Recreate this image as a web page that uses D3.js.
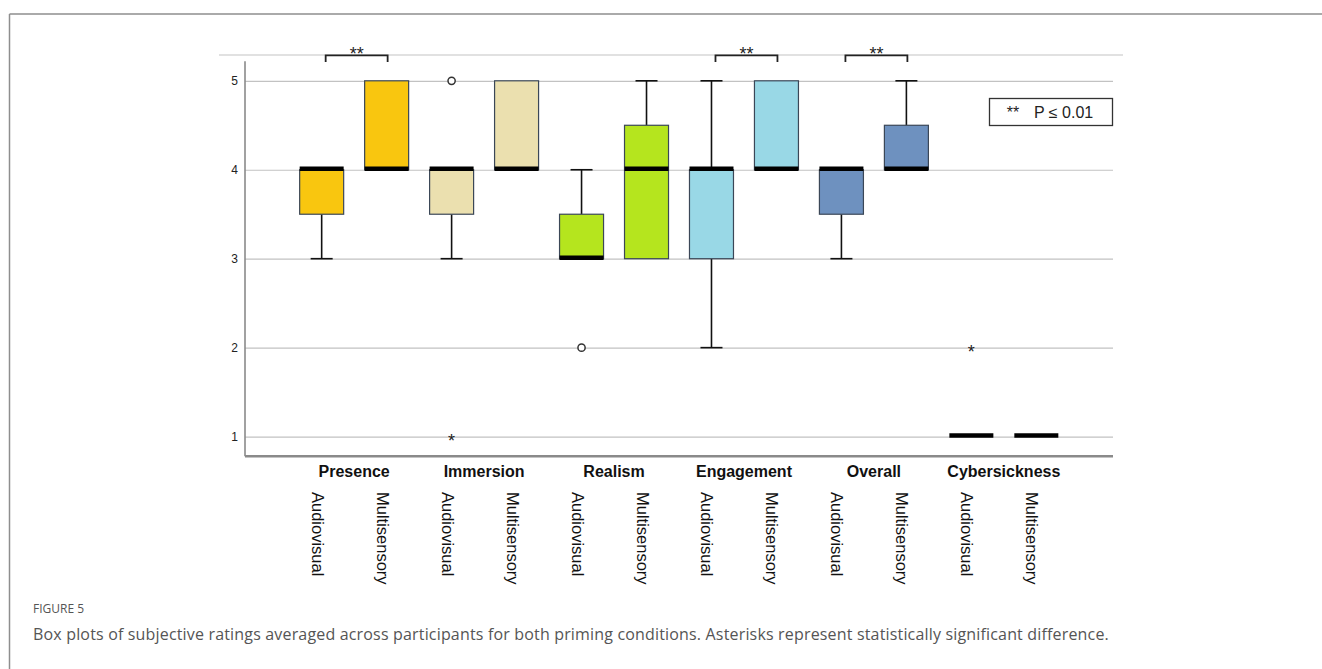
<!DOCTYPE html>
<html>
<head>
<meta charset="utf-8">
<script src="https://cdn.jsdelivr.net/npm/d3@7"></script>
<style>
  html, body { margin: 0; padding: 0; background: #fff; }
  svg { display: block; }
</style>
</head>
<body>
<svg id="chart" width="1322" height="669"></svg>
<script>
// Rating categories and the two priming conditions
const categories = ["Presence", "Immersion", "Realism", "Engagement", "Overall", "Cybersickness"];
const conditions = ["Audiovisual", "Multisensory"];
const yTicks = [1, 2, 3, 4, 5];

// Box statistics, one entry per category × condition (AV, MS, AV, MS, ...)
const q1Values      = [3.5, 4,   3.5, 4,   3,   3,   3, 4,   3.5, 4,   1, 1];
const medianValues  = [4,   4,   4,   4,   3,   4,   4, 4,   4,   4,   1, 1];
const q3Values      = [4,   5,   4,   5,   3.5, 4.5, 4, 5,   4,   4.5, 1, 1];
const whiskerLow    = [3,   4,   3,   4,   3,   3,   2, 4,   3,   4,   1, 1];
const whiskerHigh   = [4,   5,   4,   5,   4,   5,   5, 5,   4,   5,   1, 1];

// Outliers (circles) and extreme values (asterisks)
const outlierCategory  = ["Immersion", "Realism"];
const outlierCondition = ["Audiovisual", "Audiovisual"];
const outlierValue     = [5, 2];
const extremeCategory  = ["Immersion", "Cybersickness"];
const extremeCondition = ["Audiovisual", "Audiovisual"];
const extremeValue     = [1, 2];

// Pairs marked as significantly different (p ≤ 0.01)
const significantPairs = ["Presence", "Engagement", "Overall"];
const legendLabel = "P ≤ 0.01";

const boxColors = {
  Presence: "#f9c60f",
  Immersion: "#ebe0af",
  Realism: "#b5e51e",
  Engagement: "#99d8e6",
  Overall: "#6e91bf",
  Cybersickness: "#6e91bf"
};

const svg = d3.select("#chart");
const font = "Arial, 'Liberation Sans', sans-serif";

// Build one record per box
const boxes = [];
categories.forEach((c, ci) => {
  conditions.forEach((cond, k) => {
    const i = ci * 2 + k;
    boxes.push({
      key: c + "|" + cond, category: c, condition: cond,
      q1: q1Values[i], median: medianValues[i], q3: q3Values[i],
      lo: whiskerLow[i], hi: whiskerHigh[i]
    });
  });
});

// Scales
const plotLeft = 245, plotRight = 1113;
const x = d3.scalePoint()
  .domain(boxes.map(d => d.key))
  .range([plotLeft, plotRight])
  .padding(1.18);
const y = d3.scaleLinear().domain([1, 5]).range([436.6, 80.8]);

const boxW = 44, capW = 22;

// Outer frame (top and left rules)
svg.append("line").attr("x1", 9.5).attr("x2", 1322).attr("y1", 14).attr("y2", 14)
  .attr("stroke", "#8e8e8e").attr("stroke-width", 1.5);
svg.append("line").attr("x1", 9.5).attr("x2", 9.5).attr("y1", 14).attr("y2", 669)
  .attr("stroke", "#8e8e8e").attr("stroke-width", 1.5);

// Top rule above the plot
svg.append("line").attr("x1", 219).attr("x2", 1123).attr("y1", y(5.29)).attr("y2", y(5.29))
  .attr("stroke", "#c4c4c4").attr("stroke-width", 1.2);

// Gridlines via a y axis with full-width ticks
const grid = svg.append("g").attr("transform", `translate(${plotLeft},0)`)
  .call(d3.axisRight(y).tickValues(yTicks).tickSize(plotRight - plotLeft).tickFormat(""));
grid.select(".domain").remove();
grid.selectAll(".tick line").attr("stroke", "#c2c2c2").attr("stroke-width", 1.2);

// Y tick labels
const yAxis = svg.append("g").attr("transform", `translate(${plotLeft},0)`)
  .call(d3.axisLeft(y).tickValues(yTicks).tickSize(0).tickPadding(7).tickFormat(d3.format("d")));
yAxis.select(".domain").remove();
yAxis.selectAll("text").attr("font-family", font).attr("font-size", 12).attr("fill", "#222");

// Axis lines
svg.append("line").attr("x1", plotLeft).attr("x2", plotLeft).attr("y1", y(5.22)).attr("y2", y(0.78))
  .attr("stroke", "#8a8a8a").attr("stroke-width", 1.6);
svg.append("line").attr("x1", plotLeft).attr("x2", plotRight).attr("y1", y(0.78)).attr("y2", y(0.78))
  .attr("stroke", "#8a8a8a").attr("stroke-width", 2.5);

// Whiskers
const bx = svg.append("g");
boxes.forEach(d => {
  const cx = x(d.key);
  if (d.lo < d.q1) {
    bx.append("line").attr("x1", cx).attr("x2", cx).attr("y1", y(d.q1)).attr("y2", y(d.lo))
      .attr("stroke", "#111").attr("stroke-width", 1.6);
    bx.append("line").attr("x1", cx - capW / 2).attr("x2", cx + capW / 2).attr("y1", y(d.lo)).attr("y2", y(d.lo))
      .attr("stroke", "#111").attr("stroke-width", 1.6);
  }
  if (d.hi > d.q3) {
    bx.append("line").attr("x1", cx).attr("x2", cx).attr("y1", y(d.q3)).attr("y2", y(d.hi))
      .attr("stroke", "#111").attr("stroke-width", 1.6);
    bx.append("line").attr("x1", cx - capW / 2).attr("x2", cx + capW / 2).attr("y1", y(d.hi)).attr("y2", y(d.hi))
      .attr("stroke", "#111").attr("stroke-width", 1.6);
  }
});

// Boxes
bx.selectAll("rect.box").data(boxes.filter(d => d.q3 > d.q1)).join("rect")
  .attr("class", "box")
  .attr("x", d => x(d.key) - boxW / 2)
  .attr("y", d => y(d.q3))
  .attr("width", boxW)
  .attr("height", d => y(d.q1) - y(d.q3))
  .attr("fill", d => boxColors[d.category])
  .attr("stroke", "#3b4757")
  .attr("stroke-width", 1.2);

// Medians
bx.selectAll("line.median").data(boxes).join("line")
  .attr("class", "median")
  .attr("x1", d => x(d.key) - boxW / 2)
  .attr("x2", d => x(d.key) + boxW / 2)
  .attr("y1", d => y(d.median) - 1)
  .attr("y2", d => y(d.median) - 1)
  .attr("stroke", "#000")
  .attr("stroke-width", 4.5);

// Outliers
outlierValue.forEach((v, i) => {
  svg.append("circle")
    .attr("cx", x(outlierCategory[i] + "|" + outlierCondition[i]))
    .attr("cy", y(v))
    .attr("r", 3.6)
    .attr("fill", "#fff").attr("stroke", "#333").attr("stroke-width", 1.5);
});
extremeValue.forEach((v, i) => {
  svg.append("text")
    .attr("x", x(extremeCategory[i] + "|" + extremeCondition[i]))
    .attr("y", y(v) + 10)
    .attr("text-anchor", "middle")
    .attr("font-family", font).attr("font-size", 18).attr("fill", "#222")
    .text("*");
});

// Significance brackets
significantPairs.forEach(c => {
  const x1 = x(c + "|" + conditions[0]) + 4;
  const x2 = x(c + "|" + conditions[1]) + 1;
  const yt = y(5.285), yb = y(5.21);
  svg.append("text")
    .attr("x", (x1 + x2) / 2).attr("y", yt + 5)
    .attr("text-anchor", "middle")
    .attr("font-family", font).attr("font-size", 18).attr("fill", "#222")
    .text("**");
  svg.append("path")
    .attr("d", `M${x1},${yb}V${yt}H${x2}V${yb}`)
    .attr("fill", "none").attr("stroke", "#222").attr("stroke-width", 1.8);
});

// Legend
const lg = svg.append("g");
lg.append("rect").attr("x", 989.5).attr("y", 98.5).attr("width", 123).attr("height", 27)
  .attr("fill", "#fff").attr("stroke", "#333").attr("stroke-width", 1.3);
lg.append("text").attr("x", 1013).attr("y", 118).attr("text-anchor", "middle")
  .attr("font-family", font).attr("font-size", 16).attr("fill", "#222").text("**");
lg.append("text").attr("x", 1034).attr("y", 118)
  .attr("font-family", font).attr("font-size", 16).attr("fill", "#222").text(legendLabel);

// Category labels
svg.selectAll("text.cat").data(categories).join("text")
  .attr("class", "cat")
  .attr("x", c => (x(c + "|" + conditions[0]) + x(c + "|" + conditions[1])) / 2)
  .attr("y", 477)
  .attr("text-anchor", "middle")
  .attr("font-family", font).attr("font-size", 16).attr("font-weight", "bold").attr("fill", "#111")
  .text(c => c);

// Condition labels, rotated
svg.selectAll("text.cond").data(boxes).join("text")
  .attr("class", "cond")
  .attr("transform", d => `translate(${x(d.key) - 10},492) rotate(90)`)
  .attr("font-family", font).attr("font-size", 16.5).attr("fill", "#111")
  .text(d => d.condition);

// Caption
svg.append("text").attr("x", 33).attr("y", 613)
  .attr("font-family", "'Open Sans', sans-serif").attr("font-size", 12).attr("fill", "#555")
  .text("FIGURE 5");
svg.append("text").attr("x", 33).attr("y", 640)
  .attr("font-family", "'Open Sans', sans-serif").attr("font-size", 16).attr("letter-spacing", 0.17)
  .attr("fill", "#555")
  .text("Box plots of subjective ratings averaged across participants for both priming conditions. Asterisks represent statistically significant difference.");
</script>
</body>
</html>
